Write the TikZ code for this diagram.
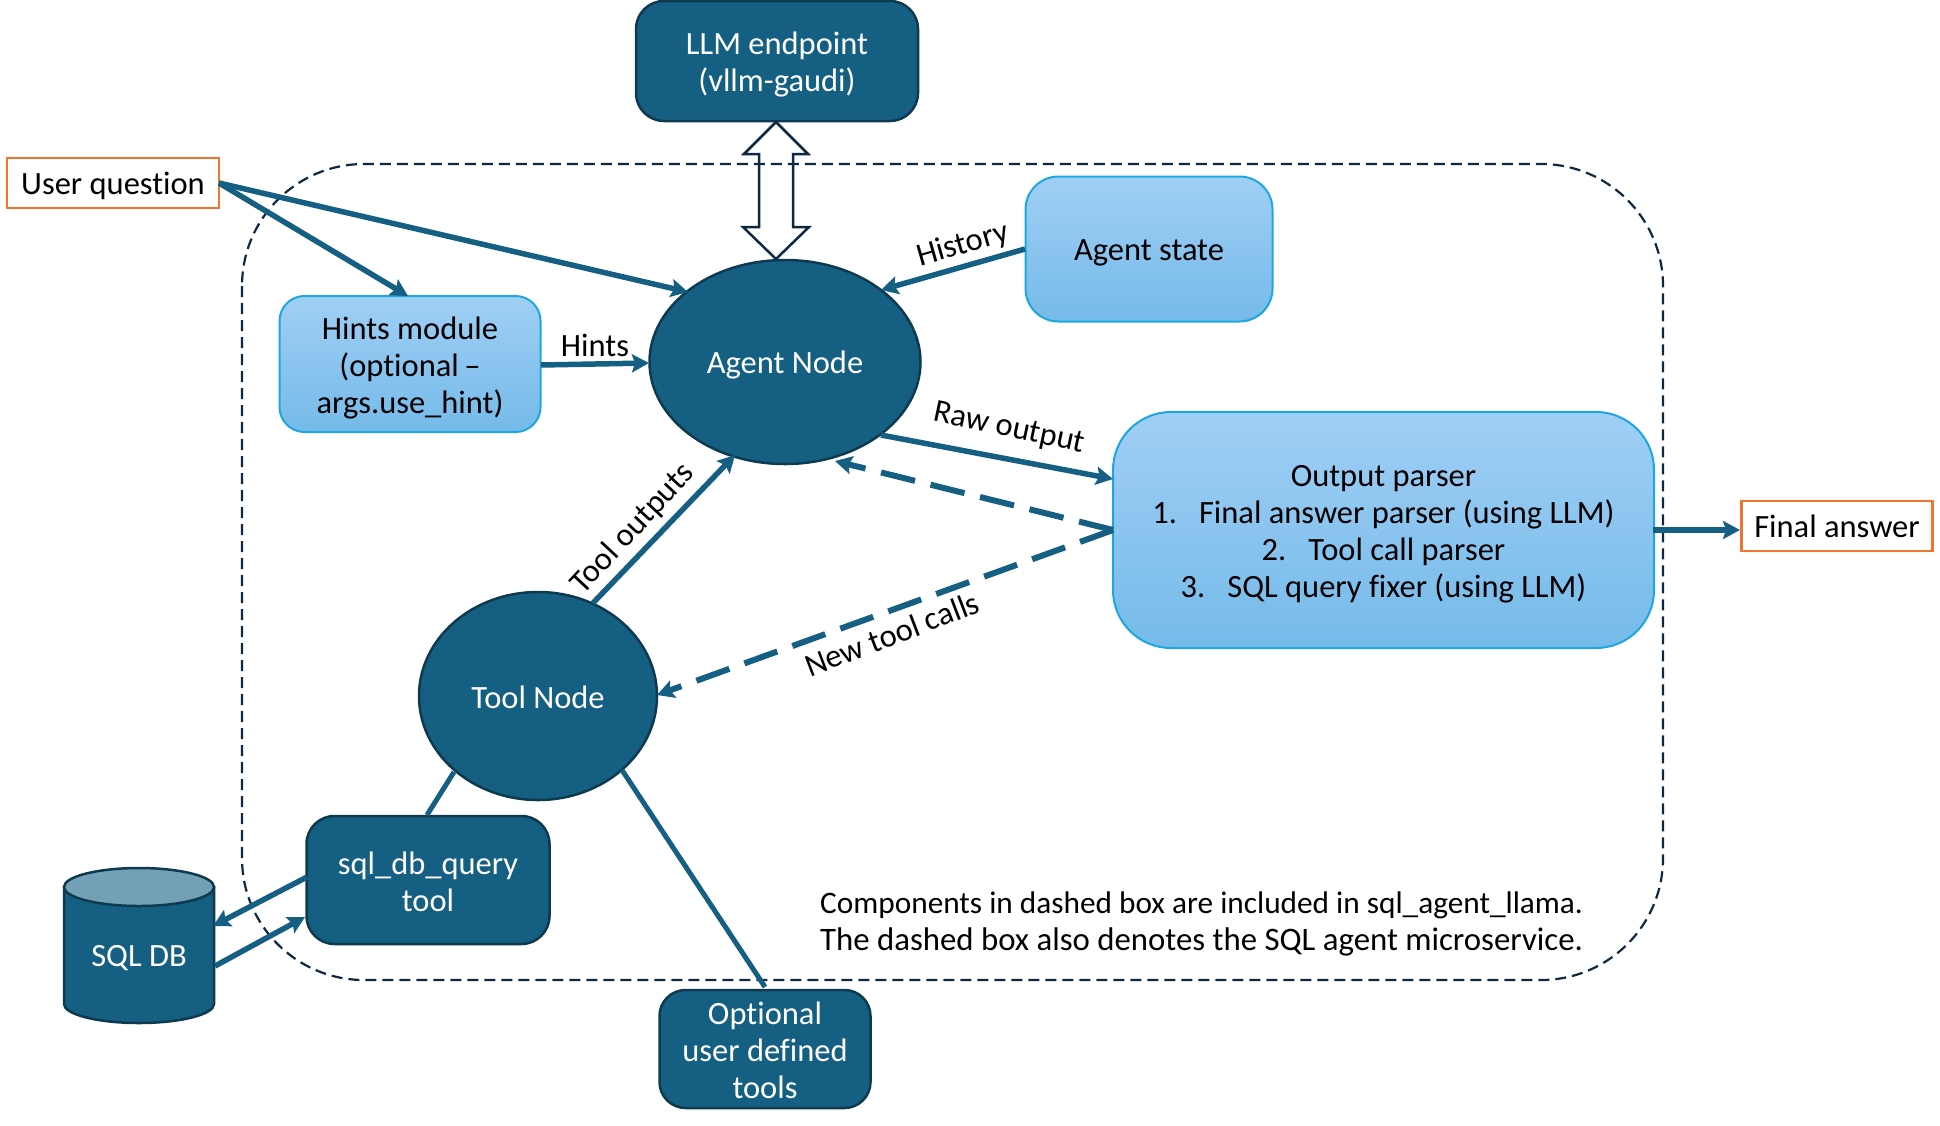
\documentclass[tikz,border=0pt]{standalone}
\usepackage{fontspec}
\setmainfont{Carlito}[Ligatures=NoCommon]
\usetikzlibrary{arrows.meta,shapes.geometric}
\definecolor{teal}{HTML}{156082}
\definecolor{darkline}{HTML}{0E3A50}
\definecolor{navy}{HTML}{0E2841}
\definecolor{orangeb}{HTML}{F0752F}
\definecolor{lighttop}{HTML}{A0CFF5}
\definecolor{lightbot}{HTML}{75BAE9}
\definecolor{lightline}{HTML}{1CA8DE}
\definecolor{cyltop}{HTML}{73A0B4}
\newcommand{\txt}{\fontsize{32.5}{37}\selectfont}
\newcommand{\dn}[1]{\rule{0pt}{#1pt}}
\tikzset{
  every node/.style={font=\txt,inner sep=0pt,align=center},
  darkbox/.style={draw=darkline,line width=2.5pt,fill=teal,text=white,rounded corners=#1},
  darkbox/.default=28pt,
  lightbox/.style={draw=lightline,line width=2pt,top color=lighttop,bottom color=lightbot,text=black,rounded corners=#1},
  ioBox/.style={draw=orangeb,line width=2.5pt,fill=white,text=black},
  darknode/.style={ellipse,draw=darkline,line width=2.5pt,fill=teal,text=white},
  link/.style={draw=teal,line width=5.5pt,-{Stealth[length=17pt,width=18pt,inset=3pt]}},
  plainlink/.style={draw=teal,line width=5pt},
  dashlink/.style={link,line width=6pt,dash pattern=on 35pt off 16pt},
  tag/.style={text=black},
  cylbody/.style={draw=darkline,line width=2.5pt,fill=teal},
  cyllid/.style={draw=darkline,line width=2.5pt,fill=cyltop},
}
\begin{document}
\begin{tikzpicture}[x=1pt,y=-1pt]
\useasboundingbox (0,0) rectangle (1940,1125);
% boxes and nodes
\node[darkbox,minimum width=282pt,minimum height=120pt] (llm) at (777,61) {\dn{29}LLM endpoint\\(vllm-gaudi)};
\node[ioBox,minimum width=212pt,minimum height=50pt] (user) at (113,183) {\dn{29}User question};
\node[darknode,minimum width=271pt,minimum height=204pt] (agent) at (785,362) {\dn{29}Agent Node};
% hollow two-headed arrow between LLM endpoint and Agent Node
\coordinate (llmTip) at (776,122);
\coordinate (agentTip) at (776,259);
\draw[navy,line width=2.5pt,fill=white,line join=miter]
  (llmTip) -- ++(32,32) -- ++(-15,0) -- ++(0,73) -- ++(16,0) -- (agentTip)
  -- ++(-33,-32) -- ++(16,0) -- ++(0,-73) -- ++(-15,0) -- cycle;
\draw[navy,line width=2.2pt,dash pattern=on 11pt off 6pt,rounded corners=122pt] (242,164) rectangle (1663,980);
\node[lightbox=25pt,minimum width=261pt,minimum height=136pt] (hints) at (410,364) {\dn{30}Hints module\\(optional\,--\\args.use\_hint)};
\node[lightbox=33pt,minimum width=247pt,minimum height=145pt] (state) at (1149,249) {\dn{29}Agent state};
\node[lightbox=58pt,minimum width=541pt,minimum height=236pt] (parser) at (1383.5,530) {\dn{30}Output parser\\1.\hspace{22pt}Final answer parser (using LLM)\\2.\hspace{22pt}Tool call parser\\3.\hspace{22pt}SQL query fixer (using LLM)};
\node[ioBox,minimum width=191pt,minimum height=50pt] (final) at (1837,526) {Final answer};
\node[darknode,minimum width=238pt,minimum height=208pt] (tool) at (538,696) {\dn{26}Tool Node};
\node[darkbox,minimum width=243pt,minimum height=128pt] (sql) at (428,880) {\dn{26}sql\_db\_query\\tool};
\node[darkbox=26pt,minimum width=211pt,minimum height=118pt] (opt) at (765,1049) {\dn{26}Optional\\user defined\\tools};
% cylinder
\path[cylbody] (64,887) -- (64,1004) arc[start angle=180,end angle=360,x radius=75pt,y radius=19pt] -- (214,887) -- cycle;
\path[cyllid] (139,887) ellipse[x radius=75pt,y radius=19pt];
\node[text=white] (db) at (139,955) {\dn{28}SQL DB};
% named connector ends
\coordinate (uq) at (219,183);
\coordinate (agentUq) at (688,292);
\coordinate (hintsTop) at (408,296);
\coordinate (hintsOut) at (541,365);
\coordinate (agentHints) at (649,363);
\coordinate (stateOut) at (1025,249);
\coordinate (agentHist) at (881,290);
\coordinate (agentRaw) at (881,435);
\coordinate (parserRaw) at (1113,479);
\coordinate (parserDash) at (1113,530);
\coordinate (agentBack) at (835,461);
\coordinate (toolIn) at (657,695);
\coordinate (toolOut) at (593,603);
\coordinate (agentTool) at (735,455);
\coordinate (toolSql) at (454,772);
\coordinate (sqlTop) at (427,815);
\coordinate (toolOpt) at (622,770);
\coordinate (optTop) at (765,987);
\coordinate (sqlOutL) at (307,877);
\coordinate (dbIn) at (213,926);
\coordinate (dbOut) at (215,966);
\coordinate (sqlIn) at (305,917);
\coordinate (parserOut) at (1653,530);
\coordinate (finalIn) at (1740,530);
% connectors
\draw[link] (uq) -- (agentUq);
\draw[link] (uq) -- (hintsTop);
\draw[link] (hintsOut) -- (agentHints);
\draw[link] (stateOut) -- (agentHist);
\draw[link] (agentRaw) -- (parserRaw);
\draw[dashlink] (parserDash) -- (agentBack);
\draw[dashlink] (parserDash) -- (toolIn);
\draw[link] (toolOut) -- (agentTool);
\draw[plainlink] (toolSql) -- (sqlTop);
\draw[plainlink] (toolOpt) -- (optTop);
\draw[link] (sqlOutL) -- (dbIn);
\draw[link] (dbOut) -- (sqlIn);
\draw[link] (parserOut) -- (finalIn);
% labels
\node[tag] (lhints) at (595,345) {Hints};
\node[tag,rotate=16] (lhist) at (963,245) {History};
\node[tag,rotate=-12] (lraw) at (1009,429) {Raw output};
\node[tag,rotate=47] (ltool) at (633,529) {Tool outputs};
\node[tag,rotate=21] (lnew) at (892,634) {New tool calls};
\node[tag,align=left,anchor=west] (note) at (820,923.5) {\fontsize{31.3}{37}\selectfont Components in dashed box are included in sql\_agent\_llama.\\\fontsize{32.8}{37}\selectfont The dashed box also denotes the SQL agent microservice.};
\end{tikzpicture}
\end{document}
